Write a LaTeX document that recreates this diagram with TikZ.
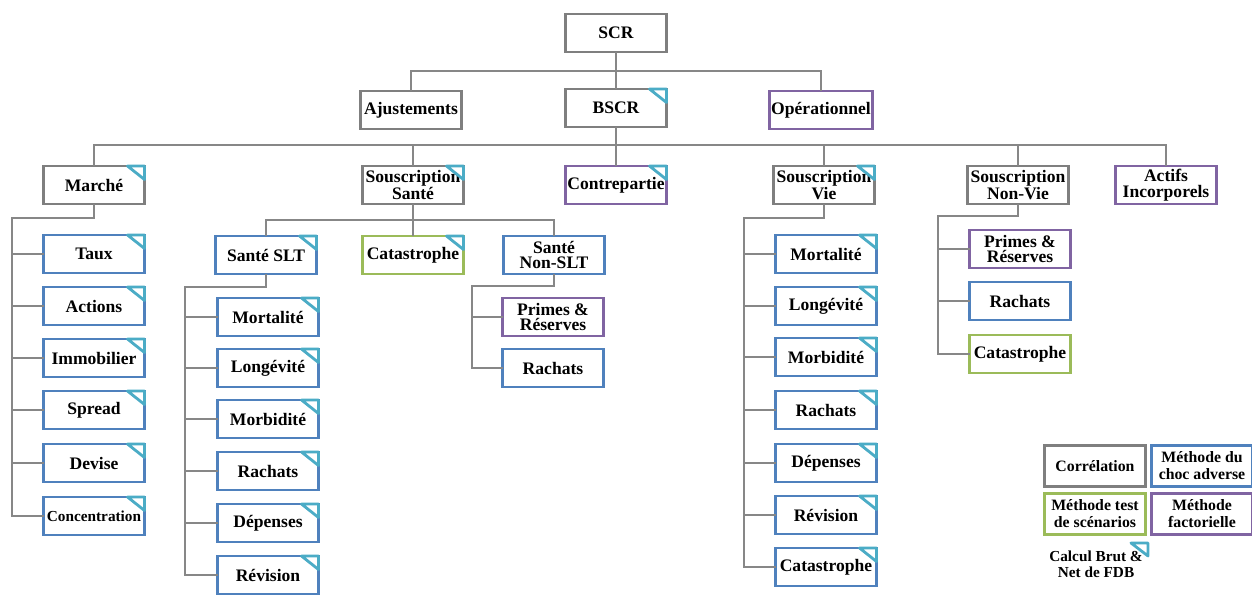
\documentclass[tikz,border=0pt]{standalone}
\usepackage{fontspec}
\setmainfont{Liberation Serif}
\definecolor{boxgrey}{RGB}{127,127,127}
\definecolor{boxblue}{RGB}{79,129,189}
\definecolor{boxpurple}{RGB}{128,100,162}
\definecolor{boxgreen}{RGB}{155,187,89}
\definecolor{markcyan}{RGB}{75,172,198}
\definecolor{linegrey}{RGB}{135,135,135}
\tikzset{
  box/.style={draw=boxgrey, line width=1.6pt, outer sep=0pt, fill=white,
    minimum width=2.02cm, minimum height=0.76cm, inner sep=1pt, align=center,
    font=\bfseries\fontsize{10}{8.8}\selectfont},
  bluebox/.style={box, draw=boxblue},
  purplebox/.style={box, draw=boxpurple},
  greenbox/.style={box, draw=boxgreen},
  legend/.style={minimum height=0.82cm, font=\bfseries\fontsize{9}{9.6}\selectfont},
  conn/.style={draw=linegrey, line width=1.1pt},
  cornermark/.style={draw=markcyan, line width=1.6pt, fill=white, line join=round}
}
\begin{document}
\begin{tikzpicture}[x=0.02cm,y=-0.02cm]
\useasboundingbox (0,0) rectangle (1252,597);
%top levels
\node[box] (scr) at (616,33) {SCR};
\node[box] (ajust) at (411,110) {Ajustements};
\node[box] (bscr) at (616,108) {BSCR};
\node[purplebox] (oper) at (821,110) {Opérationnel};
%modules
\node[box] (marche) at (94,185) {Marché};
\node[box] (ssante) at (413,185) {Souscription\\Santé};
\node[purplebox] (contre) at (616,185) {Contrepartie};
\node[box] (svie) at (824,185) {Souscription\\Vie};
\node[box] (snvie) at (1018,185) {Souscription\\Non-Vie};
\node[purplebox] (actifs) at (1166,185) {Actifs\\Incorporels};
%marche
\node[bluebox] (taux) at (94,254) {Taux};
\node[bluebox] (actions) at (94,306) {Actions};
\node[bluebox] (immo) at (94,358) {Immobilier};
\node[bluebox] (spread) at (94,410) {Spread};
\node[bluebox] (devise) at (94,463) {Devise};
\node[bluebox,font=\bfseries\fontsize{8.7}{9}\selectfont] (conc) at (94,516) {Concentration};
%sante
\node[bluebox] (slt) at (266,255) {Santé SLT};
\node[greenbox] (scata) at (413,255) {Catastrophe};
\node[bluebox] (nslt) at (554,255) {Santé\\Non-SLT};
\node[bluebox] (sltmort) at (268,317) {Mortalité};
\node[bluebox] (sltlong) at (268,368) {Longévité};
\node[bluebox] (sltmorb) at (268,419) {Morbidité};
\node[bluebox] (sltrach) at (268,471) {Rachats};
\node[bluebox] (sltdep) at (268,523) {Dépenses};
\node[bluebox] (sltrev) at (268,575) {Révision};
\node[purplebox] (nsltprim) at (553,317) {Primes \&\\Réserves};
\node[bluebox] (nsltrach) at (553,368) {Rachats};
%vie
\node[bluebox] (viemort) at (826,254) {Mortalité};
\node[bluebox] (vielong) at (826,306) {Longévité};
\node[bluebox] (viemorb) at (826,357) {Morbidité};
\node[bluebox] (vierach) at (826,410) {Rachats};
\node[bluebox] (viedep) at (826,463) {Dépenses};
\node[bluebox] (vierev) at (826,515) {Révision};
\node[bluebox] (viecata) at (826,567) {Catastrophe};
%non-vie
\node[purplebox] (nvprim) at (1020,249) {Primes \&\\Réserves};
\node[bluebox] (nvrach) at (1020,301) {Rachats};
\node[greenbox] (nvcata) at (1020,354) {Catastrophe};
%legend
\node[box,legend] (corr) at (1095,466) {Corrélation};
\node[bluebox,legend] (choc) at (1202,466) {Méthode du\\choc adverse};
\node[greenbox,legend] (scen) at (1095,514) {Méthode test\\de scénarios};
\node[purplebox,legend] (fact) at (1202,514) {Méthode\\factorielle};
\draw[cornermark] (1131,543) -- (1148,543) -- (1148,556) -- cycle;
\node[align=center,font=\bfseries\fontsize{8.7}{9.3}\selectfont] (fdb) at (1096,564) {Calcul Brut \&\\Net de FDB};
%connectors
\coordinate (bus1) at (616,71);
\coordinate (bus2) at (616,145);
\draw[conn] (scr) -- (bscr);
\draw[conn] (ajust.north) |- (bus1) -| (oper.north);
\draw[conn] (bscr) -- (contre);
\draw[conn] (marche.north) |- (bus2) -| (actifs.north);
\foreach \n in {ssante,svie,snvie}
  \draw[conn] (\n.north) -- (\n.north |- bus2);
\coordinate (mtrunk) at (12,218);
\draw[conn] (marche.south) |- (mtrunk) |- (conc.west);
\foreach \n in {taux,actions,immo,spread,devise}
  \draw[conn] (\n.west) -- (\n.west -| mtrunk);
\coordinate (sbus) at (413,220);
\draw[conn] (ssante) -- (scata);
\draw[conn] (slt.north) |- (sbus) -| (nslt.north);
\coordinate (slttrunk) at (185,287);
\draw[conn] (slt.south) |- (slttrunk) |- (sltrev.west);
\foreach \n in {sltmort,sltlong,sltmorb,sltrach,sltdep}
  \draw[conn] (\n.west) -- (\n.west -| slttrunk);
\coordinate (nslttrunk) at (472,286);
\draw[conn] (nslt.south) |- (nslttrunk) |- (nsltrach.west);
\draw[conn] (nsltprim.west) -- (nsltprim.west -| nslttrunk);
\coordinate (vtrunk) at (744,218);
\draw[conn] (svie.south) |- (vtrunk) |- (viecata.west);
\foreach \n in {viemort,vielong,viemorb,vierach,viedep,vierev}
  \draw[conn] (\n.west) -- (\n.west -| vtrunk);
\coordinate (nvtrunk) at (938,216);
\draw[conn] (snvie.south) |- (nvtrunk) |- (nvcata.west);
\foreach \n in {nvprim,nvrach}
  \draw[conn] (\n.west) -- (\n.west -| nvtrunk);
%corner marks
\foreach \n in {bscr,marche,ssante,contre,svie,taux,actions,immo,spread,devise,conc,
  slt,scata,sltmort,sltlong,sltmorb,sltrach,sltdep,sltrev,
  viemort,vielong,viemorb,vierach,viedep,vierev,viecata}
  \draw[cornermark] ([xshift=-0.34cm]\n.north east) -- (\n.north east) -- ([yshift=-0.27cm]\n.north east) -- cycle;
\end{tikzpicture}
\end{document}
